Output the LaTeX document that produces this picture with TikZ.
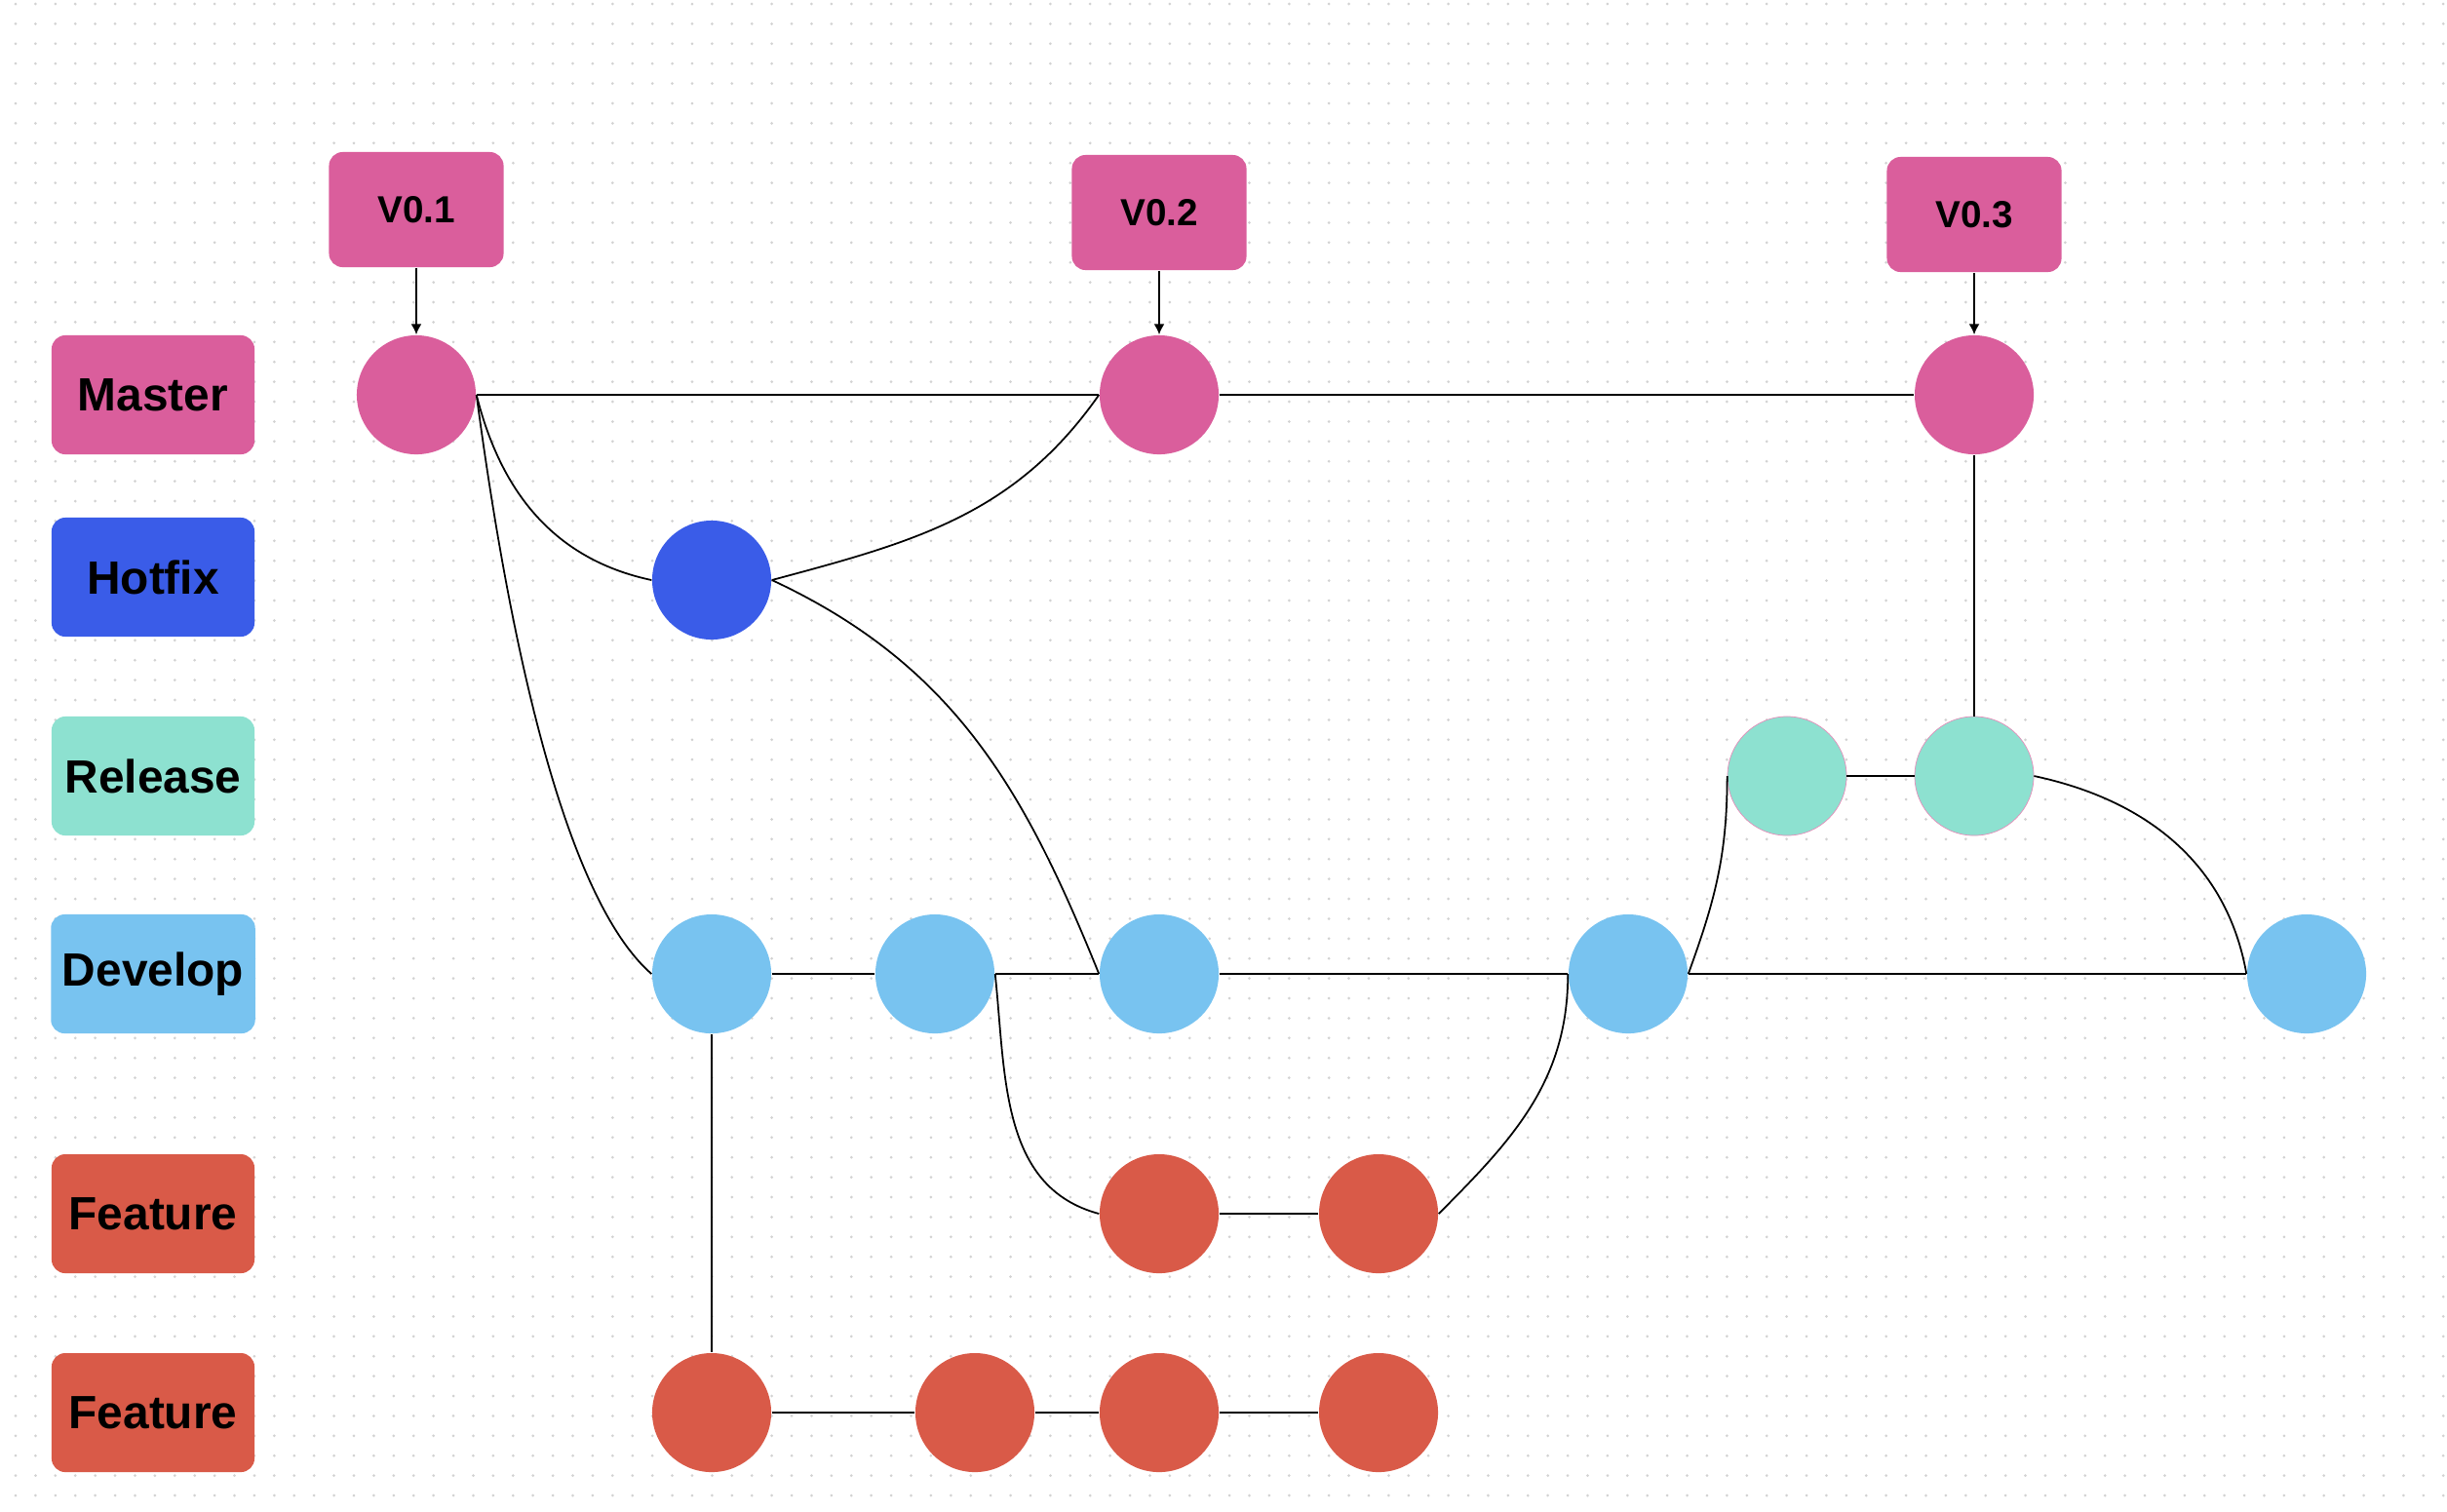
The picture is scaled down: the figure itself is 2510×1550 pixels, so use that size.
\documentclass[tikz,border=0pt]{standalone}
\usepackage{fontspec}
\setsansfont{Liberation Sans}
\usepackage{xcolor}
\usetikzlibrary{arrows.meta}

\definecolor{masterpink}{HTML}{DA5E9C}
\definecolor{hotblue}{HTML}{3A5CE8}
\definecolor{releasegreen}{HTML}{8DE1D0}
\definecolor{devblue}{HTML}{78C3F0}
\definecolor{featred}{HTML}{D95A48}
\definecolor{dotgray}{HTML}{D2D2D2}

\begin{document}
\begin{tikzpicture}[
    x=0.01cm, y=-0.01cm,
    branch/.style={rectangle, rounded corners=4pt,
                   minimum width=2.08cm, minimum height=1.22cm,
                   align=center, font=\sffamily\bfseries\fontsize{13.6}{16}\selectfont},
    tag/.style={rectangle, rounded corners=4pt, fill=masterpink,
                minimum width=1.79cm, minimum height=1.18cm,
                font=\sffamily\bfseries\fontsize{11}{13}\selectfont},
    commit/.style={circle, minimum size=1.22cm, inner sep=0pt},
    master/.style={commit, fill=masterpink},
    hotfix/.style={commit, fill=hotblue},
    release/.style={commit, fill=releasegreen, draw=masterpink!70, line width=0.2pt},
    develop/.style={commit, fill=devblue},
    feature/.style={commit, fill=featred},
    link/.style={black, line width=0.5pt},
    arr/.style={-{Latex[length=1.1mm, width=1.1mm]}, black, line width=0.5pt},
    dotgrid/.style={dotgray, line width=0.03cm, line cap=round,
                    dash pattern=on 0pt off 0.204cm},
]
  \fill[white] (0,0) rectangle (2510,1550);
  \useasboundingbox (0,0) rectangle (2510,1550);

  % dotted canvas
  \foreach \yy in {4,24.4,...,1550}
    \draw[dotgrid] (16,\yy) -- (2510,\yy);

  % Branch names
  \node[branch, fill=masterpink]   (lmaster)  at (157, 405)  {Master};
  \node[branch, fill=hotblue]      (lhotfix)  at (157, 592)  {Hotfix};
  \node[branch, fill=releasegreen] (lrelease) at (157, 796)  {Release};
  \node[branch, fill=devblue]      (ldevelop) at (157, 999)  {Develop};
  \node[branch, fill=featred]      (lfeatA)   at (157, 1245) {Feature};
  \node[branch, fill=featred]      (lfeatB)   at (157, 1449) {Feature};

  % Tags
  \node[tag] (v1) at (427, 215)  {V0.1};
  \node[tag] (v2) at (1189, 218) {V0.2};
  \node[tag] (v3) at (2025, 220) {V0.3};

  % Commits
  \node[master] (m1) at (427, 405)  {};
  \node[master] (m2) at (1189, 405) {};
  \node[master] (m3) at (2025, 405) {};

  \node[hotfix] (h1) at (730, 595) {};

  \node[release] (r1) at (1833, 796) {};
  \node[release] (r2) at (2025, 796) {};

  \node[develop] (d1) at (730, 999)  {};
  \node[develop] (d2) at (959, 999)  {};
  \node[develop] (d3) at (1189, 999) {};
  \node[develop] (d4) at (1670, 999) {};
  \node[develop] (d5) at (2366, 999) {};

  \node[feature] (fa1) at (1189, 1245) {};
  \node[feature] (fa2) at (1414, 1245) {};

  \node[feature] (fb1) at (730, 1449)  {};
  \node[feature] (fb2) at (1000, 1449) {};
  \node[feature] (fb3) at (1189, 1449) {};
  \node[feature] (fb4) at (1414, 1449) {};

  \draw[arr] (v1.south) -- (m1.north);
  \draw[arr] (v2.south) -- (m2.north);
  \draw[arr] (v3.south) -- (m3.north);

  % Master
  \draw[link] (m1.east) -- (m2.west);
  \draw[link] (m2.east) -- (m3.west);
  \draw[link] (m1.east) to[out=-76, in=168] (h1.west);
  \draw[link] (m1.east) .. controls +(40,300) and +(-80,-70) .. (d1.west);

  % Hotfix
  \draw[link] (h1.east) to[out=15, in=-125] (m2.west);
  \draw[link] (h1.east) to[out=-25, in=112] (d3.west);

  % Develop
  \draw[link] (d1.east) -- (d2.west);
  \draw[link] (d2.east) -- (d3.west);
  \draw[link] (d3.east) -- (d4.west);
  \draw[link] (d4.east) -- (d5.west);
  \draw[link] (d1.south) -- (fb1.north);
  \draw[link] (d2.east) to[out=-84, in=165] (fa1.west);
  \draw[link] (d4.east) to[out=70, in=-90] (r1.west);

  % Release
  \draw[link] (r1.east) -- (r2.west);
  \draw[link] (r2.north) -- (m3.south);
  \draw[link] (r2.east) to[out=-12, in=100] (d5.west);

  % Features
  \draw[link] (fa1.east) -- (fa2.west);
  \draw[link] (fa2.east) to[out=45, in=-90] (d4.west);
  \draw[link] (fb1.east) -- (fb2.west);
  \draw[link] (fb2.east) -- (fb3.west);
  \draw[link] (fb3.east) -- (fb4.west);

\end{tikzpicture}
\end{document}
